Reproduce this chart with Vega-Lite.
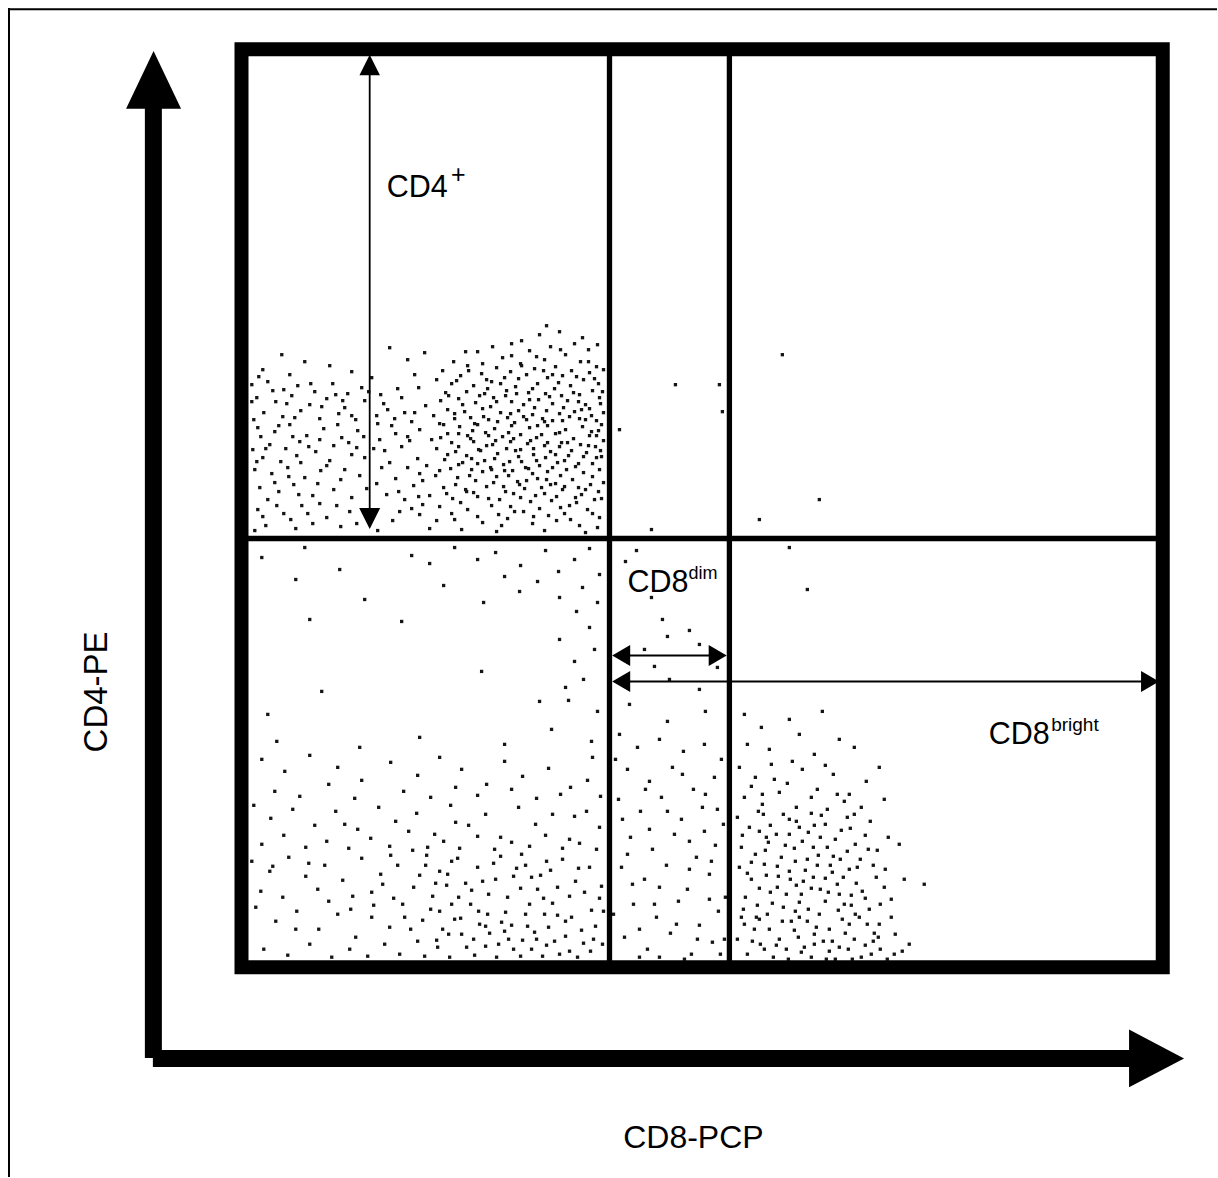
{
"$schema": "https://vega.github.io/schema/vega-lite/v6.json",
"width": 1218, "height": 1178, "padding": 0,
"autosize": {"type": "fit", "contains": "padding"},
"background": "white",
"config": {"view": {"stroke": null}},
"datasets": {
"lines": [
{"x":8,"y":9.3,"x2":1218,"y2":9.3,"w":2},
{"x":9,"y":8,"x2":9,"y2":1178,"w":2},
{"x":153.5,"y":105,"x2":153.5,"y2":1059,"w":17},
{"x":153,"y":1059.5,"x2":1132,"y2":1059.5,"w":17},
{"x":610,"y":52,"x2":610,"y2":962,"w":5.3},
{"x":730,"y":52,"x2":730,"y2":962,"w":5.3},
{"x":245,"y":539,"x2":1160,"y2":539,"w":5.5},
{"x":370,"y":60,"x2":370,"y2":522,"w":1.8},
{"x":618,"y":656,"x2":722,"y2":656,"w":2},
{"x":618,"y":682,"x2":1155,"y2":682,"w":2}
],
"box": [{"x":241.7,"y":49.2,"x2":1163.7,"y2":968}],
"heads": [
{"x":153.7,"y":79.9,"s":"M0,-1.05L1,1.05L-1,1.05Z","sz":3025},
{"x":1157.5,"y":1059.3,"s":"M1,0L-1,-1.05L-1,1.05Z","sz":3025},
{"x":370,"y":65,"s":"M0,-1L1,1L-1,1Z","sz":420},
{"x":370,"y":519,"s":"M0,1L1,-1L-1,-1Z","sz":441},
{"x":621.7,"y":656,"s":"M-0.9,0L0.9,-1.05L0.9,1.05Z","sz":400},
{"x":718.3,"y":656,"s":"M0.9,0L-0.9,-1.05L-0.9,1.05Z","sz":400},
{"x":621.7,"y":682,"s":"M-0.9,0L0.9,-1.05L0.9,1.05Z","sz":400},
{"x":1151,"y":682,"s":"M0.9,0L-0.9,-1.05L-0.9,1.05Z","sz":400}
],
"labels": [
{"t":"CD4","x":387,"y":197,"fs":30.5},
{"t":"+","x":451.4,"y":183,"fs":25},
{"t":"CD8","x":628,"y":593,"fs":30.5},
{"t":"dim","x":689,"y":579,"fs":18},
{"t":"CD8","x":989.5,"y":745,"fs":30.5},
{"t":"bright","x":1052,"y":732,"fs":19}
],
"titles": [
{"t":"CD8-PCP","x":694,"y":1149,"fs":32}
],
"ytitle": [
{"t":"CD4-PE","x":107,"y":692.5,"fs":33}
],
"dots": [
{"x":547,"y":326},{"x":540,"y":335},{"x":583,"y":338},{"x":560,"y":332},{"x":522,"y":341},{"x":598,"y":345},{"x":512,"y":344},{"x":575,"y":344},{"x":493,"y":347},{"x":551,"y":347},
{"x":478,"y":352},{"x":530,"y":351},{"x":566,"y":355},{"x":589,"y":350},{"x":503,"y":358},{"x":545,"y":360},{"x":454,"y":362},{"x":521,"y":364},{"x":581,"y":362},{"x":597,"y":367},{"x":468,"y":366},{"x":535,"y":369},{"x":556,"y":367},{"x":497,"y":368},{"x":512,"y":356},{"x":572,"y":371},{"x":443,"y":371},{"x":590,"y":373},
{"x":461,"y":376},{"x":482,"y":374},{"x":505,"y":378},{"x":527,"y":375},{"x":548,"y":378},{"x":563,"y":376},{"x":584,"y":380},{"x":599,"y":384},{"x":452,"y":384},{"x":474,"y":386},{"x":492,"y":382},{"x":516,"y":387},{"x":538,"y":384},{"x":555,"y":389},{"x":571,"y":386},{"x":593,"y":391},{"x":446,"y":393},{"x":467,"y":392},{"x":485,"y":394},{"x":507,"y":391},{"x":529,"y":393},{"x":546,"y":394},{"x":562,"y":396},{"x":580,"y":395},{"x":600,"y":398},{"x":437,"y":380},{"x":419,"y":388},{"x":511,"y":372},
{"x":441,"y":401},{"x":459,"y":399},{"x":476,"y":403},{"x":494,"y":398},{"x":512,"y":402},{"x":524,"y":405},{"x":539,"y":400},{"x":553,"y":404},{"x":568,"y":401},{"x":586,"y":405},{"x":601,"y":404},{"x":448,"y":410},{"x":465,"y":412},{"x":483,"y":409},{"x":501,"y":413},{"x":519,"y":411},{"x":533,"y":415},{"x":547,"y":411},{"x":560,"y":414},{"x":575,"y":412},{"x":592,"y":416},{"x":434,"y":416},{"x":455,"y":419},{"x":471,"y":418},{"x":489,"y":420},{"x":508,"y":418},{"x":527,"y":420},{"x":543,"y":419},{"x":563,"y":421},{"x":580,"y":419},{"x":597,"y":421},{"x":426,"y":406},{"x":415,"y":413},
{"x":440,"y":424},{"x":460,"y":427},{"x":478,"y":425},{"x":495,"y":429},{"x":512,"y":426},{"x":530,"y":428},{"x":548,"y":426},{"x":566,"y":430},{"x":583,"y":427},{"x":599,"y":431},{"x":448,"y":434},{"x":468,"y":436},{"x":486,"y":433},{"x":503,"y":437},{"x":521,"y":435},{"x":537,"y":438},{"x":556,"y":434},{"x":574,"y":439},{"x":590,"y":436},{"x":432,"y":440},{"x":452,"y":443},{"x":474,"y":442},{"x":493,"y":445},{"x":511,"y":442},{"x":528,"y":444},{"x":545,"y":446},{"x":562,"y":443},{"x":581,"y":445},{"x":596,"y":447},{"x":420,"y":430},{"x":408,"y":437},
{"x":437,"y":449},{"x":456,"y":452},{"x":479,"y":450},{"x":498,"y":454},{"x":516,"y":451},{"x":534,"y":455},{"x":551,"y":452},{"x":569,"y":456},{"x":587,"y":453},{"x":602,"y":457},{"x":445,"y":460},{"x":463,"y":463},{"x":485,"y":461},{"x":504,"y":465},{"x":522,"y":462},{"x":540,"y":466},{"x":558,"y":463},{"x":576,"y":467},{"x":593,"y":464},{"x":427,"y":466},{"x":451,"y":469},{"x":472,"y":470},{"x":491,"y":468},{"x":513,"y":471},{"x":529,"y":469},{"x":548,"y":472},{"x":567,"y":470},{"x":584,"y":473},{"x":600,"y":470},
{"x":436,"y":476},{"x":458,"y":478},{"x":476,"y":481},{"x":497,"y":477},{"x":518,"y":482},{"x":538,"y":479},{"x":556,"y":484},{"x":573,"y":480},{"x":591,"y":485},{"x":444,"y":488},{"x":466,"y":490},{"x":487,"y":487},{"x":506,"y":492},{"x":525,"y":489},{"x":545,"y":494},{"x":563,"y":490},{"x":582,"y":495},{"x":599,"y":492},{"x":430,"y":496},{"x":453,"y":499},{"x":478,"y":497},{"x":500,"y":500},{"x":521,"y":498},{"x":552,"y":501},{"x":577,"y":503},{"x":595,"y":500},
{"x":440,"y":507},{"x":468,"y":510},{"x":492,"y":506},{"x":515,"y":512},{"x":540,"y":509},{"x":565,"y":514},{"x":588,"y":510},{"x":455,"y":520},{"x":483,"y":523},{"x":508,"y":519},{"x":533,"y":524},{"x":557,"y":521},{"x":580,"y":526},{"x":600,"y":518},{"x":462,"y":530},{"x":497,"y":532},{"x":545,"y":531},{"x":586,"y":533},{"x":420,"y":515},{"x":598,"y":528},
{"x":457,"y":381},{"x":469,"y":371},{"x":488,"y":389},{"x":501,"y":384},{"x":519,"y":379},{"x":533,"y":389},{"x":544,"y":371},{"x":559,"y":383},{"x":577,"y":377},{"x":595,"y":379},{"x":603,"y":392},{"x":449,"y":396},{"x":463,"y":405},{"x":480,"y":396},{"x":491,"y":407},{"x":506,"y":396},{"x":517,"y":394},{"x":535,"y":408},{"x":550,"y":397},{"x":564,"y":408},{"x":579,"y":402},{"x":590,"y":409},{"x":604,"y":413},{"x":444,"y":425},{"x":455,"y":414},{"x":473,"y":431},{"x":484,"y":417},{"x":498,"y":422},{"x":509,"y":433},{"x":524,"y":417},{"x":538,"y":426},{"x":553,"y":421},{"x":570,"y":417},{"x":586,"y":420},{"x":602,"y":425},{"x":441,"y":438},{"x":459,"y":447},{"x":471,"y":439},{"x":481,"y":451},{"x":496,"y":441},{"x":507,"y":449},{"x":519,"y":457},{"x":531,"y":441},{"x":546,"y":458},{"x":560,"y":447},{"x":572,"y":451},{"x":589,"y":446},{"x":604,"y":441},{"x":448,"y":455},{"x":467,"y":456},{"x":478,"y":464},{"x":495,"y":459},{"x":510,"y":462},{"x":526,"y":468},{"x":537,"y":461},{"x":553,"y":468},{"x":565,"y":461},{"x":579,"y":464},{"x":597,"y":458},{"x":440,"y":471},{"x":456,"y":485},{"x":470,"y":476},{"x":483,"y":472},{"x":494,"y":483},{"x":509,"y":476},{"x":520,"y":485},{"x":533,"y":474},{"x":547,"y":480},{"x":561,"y":476},{"x":579,"y":488},{"x":593,"y":477},{"x":604,"y":483},{"x":447,"y":494},{"x":461,"y":503},{"x":474,"y":493},{"x":489,"y":499},{"x":504,"y":487},{"x":514,"y":494},{"x":531,"y":502},{"x":542,"y":488},{"x":557,"y":497},{"x":570,"y":506},{"x":586,"y":490},{"x":602,"y":499},{"x":452,"y":514},{"x":478,"y":517},{"x":502,"y":526},{"x":524,"y":512},{"x":549,"y":516},{"x":571,"y":520},{"x":593,"y":514},{"x":437,"y":521},{"x":467,"y":492},{"x":511,"y":507},{"x":534,"y":517},{"x":561,"y":508},{"x":487,"y":380},{"x":522,"y":366},{"x":553,"y":375},{"x":574,"y":393},{"x":589,"y":362},{"x":604,"y":370},{"x":483,"y":364},{"x":466,"y":352},{"x":537,"y":357},{"x":561,"y":350},{"x":497,"y":402},{"x":511,"y":414},{"x":542,"y":435},{"x":556,"y":455},{"x":521,"y":450},{"x":489,"y":436},{"x":475,"y":424},{"x":565,"y":487},{"x":592,"y":432},{"x":601,"y":451},{"x":459,"y":434},{"x":505,"y":471},{"x":584,"y":457},{"x":527,"y":481},{"x":548,"y":443},{"x":472,"y":459},{"x":536,"y":496},{"x":576,"y":498},{"x":514,"y":439},{"x":499,"y":515},{"x":560,"y":433},{"x":582,"y":410},{"x":530,"y":400},{"x":459,"y":465},{"x":487,"y":446},{"x":545,"y":422},{"x":568,"y":443},{"x":597,"y":436},{"x":515,"y":423},{"x":492,"y":470},{"x":551,"y":485},{"x":534,"y":449},
{"x":282,"y":355},{"x":305,"y":362},{"x":263,"y":370},{"x":330,"y":366},{"x":352,"y":372},{"x":390,"y":348},{"x":408,"y":360},{"x":425,"y":353},{"x":290,"y":375},{"x":372,"y":378},{"x":415,"y":375},
{"x":252,"y":385},{"x":268,"y":382},{"x":284,"y":390},{"x":298,"y":386},{"x":315,"y":392},{"x":333,"y":384},{"x":348,"y":394},{"x":362,"y":388},{"x":381,"y":395},{"x":398,"y":389},{"x":257,"y":398},{"x":276,"y":402},{"x":292,"y":396},{"x":310,"y":405},{"x":327,"y":399},{"x":345,"y":408},{"x":365,"y":401},{"x":388,"y":410},{"x":402,"y":398},{"x":264,"y":413},{"x":283,"y":417},{"x":301,"y":411},{"x":320,"y":419},{"x":339,"y":414},{"x":356,"y":420},{"x":377,"y":416},{"x":395,"y":419},{"x":412,"y":422},{"x":254,"y":420},
{"x":258,"y":428},{"x":275,"y":432},{"x":290,"y":425},{"x":307,"y":436},{"x":324,"y":429},{"x":342,"y":438},{"x":358,"y":431},{"x":380,"y":440},{"x":396,"y":434},{"x":270,"y":445},{"x":286,"y":449},{"x":300,"y":442},{"x":316,"y":452},{"x":334,"y":446},{"x":352,"y":455},{"x":385,"y":451},{"x":402,"y":447},{"x":253,"y":450},{"x":263,"y":458},{"x":281,"y":462},{"x":297,"y":456},{"x":330,"y":461},{"x":365,"y":458},{"x":390,"y":463},{"x":418,"y":459},
{"x":255,"y":470},{"x":272,"y":474},{"x":288,"y":468},{"x":305,"y":478},{"x":321,"y":471},{"x":341,"y":480},{"x":360,"y":476},{"x":377,"y":484},{"x":396,"y":479},{"x":414,"y":486},{"x":260,"y":488},{"x":279,"y":492},{"x":294,"y":485},{"x":313,"y":496},{"x":334,"y":490},{"x":352,"y":498},{"x":387,"y":495},{"x":405,"y":500},{"x":268,"y":500},{"x":423,"y":481},
{"x":258,"y":510},{"x":284,"y":514},{"x":302,"y":506},{"x":327,"y":518},{"x":350,"y":512},{"x":393,"y":521},{"x":412,"y":509},{"x":266,"y":526},{"x":296,"y":529},{"x":341,"y":527},{"x":378,"y":531},{"x":430,"y":529},{"x":255,"y":531},{"x":313,"y":524},
{"x":259,"y":377},{"x":273,"y":391},{"x":287,"y":404},{"x":295,"y":418},{"x":311,"y":384},{"x":322,"y":407},{"x":336,"y":395},{"x":352,"y":416},{"x":369,"y":392},{"x":384,"y":404},{"x":405,"y":413},{"x":261,"y":437},{"x":279,"y":426},{"x":293,"y":437},{"x":309,"y":447},{"x":320,"y":440},{"x":338,"y":425},{"x":349,"y":443},{"x":364,"y":437},{"x":374,"y":449},{"x":392,"y":426},{"x":408,"y":468},{"x":257,"y":462},{"x":275,"y":483},{"x":289,"y":477},{"x":299,"y":495},{"x":318,"y":484},{"x":327,"y":466},{"x":345,"y":470},{"x":367,"y":489},{"x":382,"y":468},{"x":399,"y":492},{"x":419,"y":497},{"x":263,"y":517},{"x":277,"y":506},{"x":291,"y":520},{"x":308,"y":514},{"x":320,"y":504},{"x":337,"y":506},{"x":357,"y":524},{"x":400,"y":512},{"x":420,"y":474},{"x":252,"y":402},{"x":266,"y":449},{"x":301,"y":463},{"x":343,"y":401},{"x":357,"y":448},{"x":378,"y":424},{"x":410,"y":441},{"x":423,"y":505},
{"x":262,"y":558},{"x":296,"y":580},{"x":305,"y":548},{"x":340,"y":570},{"x":412,"y":556},{"x":430,"y":564},{"x":455,"y":548},{"x":478,"y":560},{"x":496,"y":553},{"x":505,"y":577},{"x":521,"y":566},{"x":538,"y":582},{"x":546,"y":551},{"x":559,"y":572},{"x":575,"y":560},{"x":583,"y":588},{"x":590,"y":549},{"x":598,"y":603},{"x":600,"y":575},{"x":577,"y":612},{"x":590,"y":628},{"x":560,"y":598},{"x":520,"y":592},{"x":484,"y":603},{"x":444,"y":586},{"x":365,"y":600},{"x":310,"y":620},{"x":402,"y":622},{"x":595,"y":650},{"x":560,"y":640},
{"x":575,"y":662},{"x":566,"y":688},{"x":569,"y":701},{"x":584,"y":680},{"x":598,"y":712},{"x":482,"y":672},{"x":322,"y":692},{"x":268,"y":715},{"x":420,"y":738},{"x":505,"y":745},{"x":552,"y":730},{"x":592,"y":742},{"x":360,"y":748},{"x":277,"y":742},{"x":540,"y":702},
{"x":262,"y":760},{"x":285,"y":772},{"x":310,"y":756},{"x":338,"y":768},{"x":362,"y":781},{"x":391,"y":763},{"x":418,"y":776},{"x":440,"y":758},{"x":462,"y":770},{"x":487,"y":785},{"x":505,"y":762},{"x":523,"y":777},{"x":549,"y":769},{"x":571,"y":788},{"x":593,"y":758},{"x":275,"y":792},{"x":300,"y":797},{"x":329,"y":785},{"x":355,"y":799},{"x":404,"y":792},{"x":431,"y":798},{"x":456,"y":788},{"x":478,"y":796},{"x":512,"y":790},{"x":537,"y":799},{"x":561,"y":795},{"x":588,"y":781},{"x":601,"y":797},
{"x":254,"y":806},{"x":271,"y":819},{"x":293,"y":810},{"x":315,"y":826},{"x":336,"y":812},{"x":358,"y":830},{"x":379,"y":808},{"x":396,"y":822},{"x":417,"y":814},{"x":435,"y":835},{"x":451,"y":806},{"x":469,"y":826},{"x":486,"y":815},{"x":501,"y":838},{"x":519,"y":808},{"x":536,"y":825},{"x":553,"y":815},{"x":570,"y":840},{"x":587,"y":812},{"x":600,"y":828},{"x":262,"y":845},{"x":284,"y":836},{"x":306,"y":848},{"x":327,"y":842},{"x":349,"y":849},{"x":371,"y":839},{"x":390,"y":847},{"x":409,"y":832},{"x":428,"y":848},{"x":444,"y":842},{"x":460,"y":849},{"x":478,"y":837},{"x":495,"y":850},{"x":512,"y":843},{"x":530,"y":847},{"x":546,"y":836},{"x":563,"y":849},{"x":580,"y":844},{"x":597,"y":850},
{"x":252,"y":862},{"x":270,"y":872},{"x":289,"y":858},{"x":306,"y":877},{"x":325,"y":866},{"x":343,"y":881},{"x":362,"y":859},{"x":381,"y":875},{"x":398,"y":866},{"x":414,"y":888},{"x":427,"y":856},{"x":440,"y":872},{"x":452,"y":862},{"x":466,"y":884},{"x":478,"y":868},{"x":489,"y":895},{"x":501,"y":857},{"x":514,"y":877},{"x":526,"y":866},{"x":538,"y":890},{"x":551,"y":871},{"x":563,"y":860},{"x":576,"y":882},{"x":590,"y":868},{"x":602,"y":887},{"x":261,"y":892},{"x":283,"y":898},{"x":318,"y":890},{"x":353,"y":897},{"x":372,"y":893},{"x":394,"y":899},{"x":420,"y":876},{"x":433,"y":897},{"x":447,"y":886},{"x":459,"y":898},{"x":472,"y":891},{"x":496,"y":880},{"x":508,"y":898},{"x":521,"y":889},{"x":544,"y":899},{"x":558,"y":888},{"x":570,"y":897},{"x":585,"y":893},{"x":600,"y":899},
{"x":256,"y":908},{"x":276,"y":922},{"x":297,"y":912},{"x":319,"y":930},{"x":338,"y":915},{"x":356,"y":938},{"x":374,"y":906},{"x":390,"y":928},{"x":405,"y":918},{"x":418,"y":942},{"x":431,"y":910},{"x":443,"y":930},{"x":455,"y":920},{"x":467,"y":948},{"x":479,"y":912},{"x":490,"y":934},{"x":502,"y":923},{"x":514,"y":950},{"x":526,"y":915},{"x":537,"y":940},{"x":549,"y":928},{"x":560,"y":955},{"x":572,"y":918},{"x":584,"y":944},{"x":596,"y":927},{"x":264,"y":950},{"x":288,"y":956},{"x":310,"y":945},{"x":332,"y":958},{"x":350,"y":950},{"x":368,"y":957},{"x":385,"y":945},{"x":400,"y":955},{"x":425,"y":957},{"x":438,"y":948},{"x":450,"y":958},{"x":462,"y":935},{"x":475,"y":956},{"x":486,"y":947},{"x":497,"y":958},{"x":509,"y":940},{"x":521,"y":957},{"x":532,"y":950},{"x":543,"y":957},{"x":555,"y":942},{"x":566,"y":937},{"x":578,"y":958},{"x":591,"y":952},{"x":603,"y":945},{"x":452,"y":905},{"x":480,"y":925},{"x":530,"y":905},{"x":545,"y":915},{"x":505,"y":932},
{"x":413,"y":851},{"x":426,"y":866},{"x":436,"y":884},{"x":448,"y":875},{"x":458,"y":859},{"x":471,"y":905},{"x":483,"y":882},{"x":494,"y":864},{"x":506,"y":913},{"x":517,"y":869},{"x":528,"y":927},{"x":541,"y":876},{"x":553,"y":904},{"x":566,"y":922},{"x":579,"y":869},{"x":592,"y":911},{"x":411,"y":930},{"x":423,"y":921},{"x":437,"y":941},{"x":449,"y":935},{"x":461,"y":919},{"x":474,"y":940},{"x":488,"y":915},{"x":499,"y":945},{"x":512,"y":926},{"x":523,"y":941},{"x":535,"y":933},{"x":547,"y":946},{"x":558,"y":916},{"x":570,"y":952},{"x":582,"y":931},{"x":594,"y":940},{"x":372,"y":918},{"x":383,"y":885},{"x":351,"y":910},{"x":329,"y":902},{"x":296,"y":930},{"x":273,"y":867},{"x":309,"y":864},{"x":345,"y":825},{"x":391,"y":856},{"x":456,"y":823},{"x":522,"y":855},{"x":575,"y":817},{"x":403,"y":905},{"x":440,"y":912},{"x":486,"y":927},{"x":532,"y":878},{"x":547,"y":862},{"x":604,"y":912},
{"x":637,"y":551},{"x":626,"y":562},{"x":652,"y":598},{"x":663,"y":620},{"x":668,"y":637},{"x":645,"y":650},{"x":690,"y":631},{"x":700,"y":645},{"x":718,"y":668},{"x":655,"y":667},{"x":700,"y":690},{"x":670,"y":680},{"x":630,"y":705},{"x":706,"y":712},{"x":668,"y":722},
{"x":620,"y":735},{"x":638,"y":748},{"x":660,"y":740},{"x":684,"y":752},{"x":705,"y":745},{"x":722,"y":760},{"x":628,"y":770},{"x":650,"y":782},{"x":673,"y":768},{"x":694,"y":790},{"x":715,"y":778},{"x":619,"y":800},{"x":641,"y":812},{"x":662,"y":798},{"x":682,"y":820},{"x":703,"y":808},{"x":724,"y":825},{"x":631,"y":838},{"x":653,"y":850},{"x":675,"y":835},{"x":697,"y":858},{"x":716,"y":846},{"x":622,"y":868},{"x":645,"y":880},{"x":667,"y":866},{"x":688,"y":890},{"x":710,"y":875},{"x":726,"y":898},{"x":634,"y":905},{"x":657,"y":918},{"x":679,"y":902},{"x":700,"y":926},{"x":719,"y":912},{"x":625,"y":938},{"x":648,"y":950},{"x":671,"y":934},{"x":692,"y":955},{"x":713,"y":943},{"x":640,"y":958},{"x":685,"y":960},{"x":614,"y":915},{"x":725,"y":940},{"x":660,"y":888},{"x":705,"y":832},
{"x":616,"y":760},{"x":646,"y":790},{"x":668,"y":812},{"x":690,"y":842},{"x":712,"y":862},{"x":633,"y":885},{"x":655,"y":905},{"x":677,"y":925},{"x":698,"y":940},{"x":721,"y":955},{"x":623,"y":820},{"x":706,"y":795},{"x":683,"y":775},{"x":640,"y":930},{"x":660,"y":958},{"x":710,"y":900},{"x":690,"y":870},{"x":628,"y":855},{"x":650,"y":830},{"x":718,"y":810},
{"x":745,"y":715},{"x":762,"y":728},{"x":790,"y":720},{"x":823,"y":712},{"x":840,"y":740},{"x":770,"y":750},{"x":815,"y":755},{"x":855,"y":748},{"x":800,"y":735},{"x":748,"y":745},
{"x":740,"y":768},{"x":756,"y":778},{"x":772,"y":765},{"x":788,"y":784},{"x":803,"y":770},{"x":818,"y":790},{"x":834,"y":775},{"x":850,"y":795},{"x":867,"y":782},{"x":880,"y":768},{"x":745,"y":798},{"x":763,"y":805},{"x":780,"y":793},{"x":797,"y":808},{"x":812,"y":798},{"x":828,"y":810},{"x":845,"y":802},{"x":862,"y":808},{"x":885,"y":800},{"x":752,"y":787},{"x":793,"y":762},{"x":826,"y":766},
{"x":738,"y":818},{"x":750,"y":828},{"x":764,"y":815},{"x":777,"y":835},{"x":790,"y":820},{"x":803,"y":842},{"x":815,"y":826},{"x":828,"y":848},{"x":842,"y":831},{"x":856,"y":845},{"x":871,"y":822},{"x":889,"y":838},{"x":742,"y":848},{"x":756,"y":855},{"x":769,"y":843},{"x":782,"y":858},{"x":795,"y":849},{"x":808,"y":860},{"x":821,"y":838},{"x":834,"y":857},{"x":848,"y":852},{"x":861,"y":860},{"x":878,"y":851},{"x":900,"y":845},{"x":760,"y":832},{"x":812,"y":814},{"x":848,"y":818},{"x":786,"y":846},{"x":800,"y":828},{"x":826,"y":825},
{"x":740,"y":868},{"x":752,"y":880},{"x":765,"y":865},{"x":778,"y":888},{"x":790,"y":872},{"x":802,"y":895},{"x":814,"y":878},{"x":826,"y":902},{"x":838,"y":885},{"x":850,"y":870},{"x":863,"y":892},{"x":877,"y":878},{"x":892,"y":900},{"x":746,"y":898},{"x":758,"y":906},{"x":771,"y":893},{"x":784,"y":908},{"x":797,"y":886},{"x":809,"y":910},{"x":821,"y":890},{"x":833,"y":873},{"x":845,"y":905},{"x":857,"y":884},{"x":870,"y":910},{"x":885,"y":888},{"x":905,"y":880},{"x":925,"y":885},{"x":767,"y":876},{"x":818,"y":866},{"x":840,"y":895},{"x":796,"y":862},{"x":852,"y":896},
{"x":742,"y":918},{"x":755,"y":930},{"x":768,"y":915},{"x":780,"y":940},{"x":792,"y":922},{"x":805,"y":948},{"x":817,"y":928},{"x":830,"y":952},{"x":843,"y":920},{"x":855,"y":940},{"x":868,"y":925},{"x":881,"y":950},{"x":896,"y":935},{"x":748,"y":955},{"x":761,"y":945},{"x":774,"y":958},{"x":787,"y":950},{"x":799,"y":938},{"x":812,"y":958},{"x":824,"y":942},{"x":836,"y":960},{"x":849,"y":950},{"x":862,"y":958},{"x":874,"y":942},{"x":888,"y":960},{"x":903,"y":952},{"x":738,"y":940},{"x":796,"y":912},{"x":830,"y":930},{"x":760,"y":920},{"x":815,"y":945},{"x":850,"y":925},{"x":872,"y":955},
{"x":759,"y":812},{"x":771,"y":826},{"x":784,"y":815},{"x":797,"y":822},{"x":809,"y":833},{"x":822,"y":816},{"x":836,"y":840},{"x":851,"y":829},{"x":866,"y":836},{"x":743,"y":836},{"x":766,"y":851},{"x":778,"y":867},{"x":791,"y":880},{"x":806,"y":871},{"x":819,"y":856},{"x":831,"y":866},{"x":844,"y":878},{"x":858,"y":868},{"x":874,"y":866},{"x":748,"y":874},{"x":760,"y":889},{"x":773,"y":904},{"x":787,"y":895},{"x":800,"y":903},{"x":812,"y":889},{"x":826,"y":879},{"x":839,"y":911},{"x":852,"y":906},{"x":866,"y":899},{"x":881,"y":905},{"x":744,"y":910},{"x":757,"y":918},{"x":770,"y":930},{"x":783,"y":922},{"x":795,"y":931},{"x":808,"y":922},{"x":820,"y":915},{"x":833,"y":942},{"x":846,"y":934},{"x":860,"y":918},{"x":875,"y":934},{"x":892,"y":918},{"x":753,"y":942},{"x":765,"y":950},{"x":777,"y":946},{"x":789,"y":960},{"x":802,"y":953},{"x":815,"y":935},{"x":827,"y":960},{"x":840,"y":948},{"x":853,"y":960},{"x":866,"y":946},{"x":879,"y":938},{"x":895,"y":955},{"x":910,"y":945},{"x":767,"y":838},{"x":790,"y":835},{"x":814,"y":848},{"x":841,"y":860},{"x":869,"y":850},{"x":886,"y":870},{"x":752,"y":863},{"x":804,"y":882},{"x":829,"y":893},{"x":779,"y":877},{"x":856,"y":915},{"x":800,"y":918},{"x":745,"y":925},{"x":880,"y":925},{"x":763,"y":795},{"x":838,"y":795},{"x":775,"y":780},{"x":855,"y":815},
{"x":720,"y":385},{"x":723,"y":412},{"x":676,"y":385},{"x":783,"y":355},{"x":820,"y":500},{"x":808,"y":590},{"x":790,"y":548},{"x":760,"y":520},{"x":652,"y":530},{"x":620,"y":430}
]
},
"layer": [
{
"data": {"name": "dots"},
"mark": {"type": "point", "shape": "square", "filled": true, "size": 11, "color": "#151515", "opacity": 1},
"encoding": {
"x": {"field": "x", "type": "quantitative", "scale": {"domain": [0, 1218], "nice": false, "zero": false}, "axis": null},
"y": {"field": "y", "type": "quantitative", "scale": {"domain": [0, 1178], "nice": false, "zero": false, "reverse": true}, "axis": null}
}
},
{
"data": {"name": "box"},
"mark": {"type": "rect", "fill": null, "fillOpacity": 0, "stroke": "black", "strokeWidth": 14, "strokeJoin": "miter"},
"encoding": {
"x": {"field": "x", "type": "quantitative"},
"x2": {"field": "x2"},
"y": {"field": "y", "type": "quantitative"},
"y2": {"field": "y2"}
}
},
{
"data": {"name": "lines"},
"mark": {"type": "rule", "color": "black", "strokeCap": "butt"},
"encoding": {
"x": {"field": "x", "type": "quantitative"},
"x2": {"field": "x2"},
"y": {"field": "y", "type": "quantitative"},
"y2": {"field": "y2"},
"strokeWidth": {"field": "w", "type": "quantitative", "scale": null}
}
},
{
"data": {"name": "heads"},
"mark": {"type": "point", "filled": true, "color": "black", "opacity": 1, "strokeWidth": 0},
"encoding": {
"x": {"field": "x", "type": "quantitative"},
"y": {"field": "y", "type": "quantitative"},
"shape": {"field": "s", "type": "nominal", "scale": null},
"size": {"field": "sz", "type": "quantitative", "scale": null}
}
},
{
"data": {"name": "labels"},
"mark": {"type": "text", "align": "left", "baseline": "alphabetic", "font": "Liberation Sans", "color": "black"},
"encoding": {
"x": {"field": "x", "type": "quantitative"},
"y": {"field": "y", "type": "quantitative"},
"text": {"field": "t"},
"size": {"field": "fs", "type": "quantitative", "scale": null}
}
},
{
"data": {"name": "titles"},
"mark": {"type": "text", "align": "center", "baseline": "alphabetic", "font": "Liberation Sans", "color": "black"},
"encoding": {
"x": {"field": "x", "type": "quantitative"},
"y": {"field": "y", "type": "quantitative"},
"text": {"field": "t"},
"size": {"field": "fs", "type": "quantitative", "scale": null}
}
},
{
"data": {"name": "ytitle"},
"mark": {"type": "text", "align": "center", "baseline": "alphabetic", "font": "Liberation Sans", "color": "black", "angle": 270},
"encoding": {
"x": {"field": "x", "type": "quantitative"},
"y": {"field": "y", "type": "quantitative"},
"text": {"field": "t"},
"size": {"field": "fs", "type": "quantitative", "scale": null}
}
}
]
}
